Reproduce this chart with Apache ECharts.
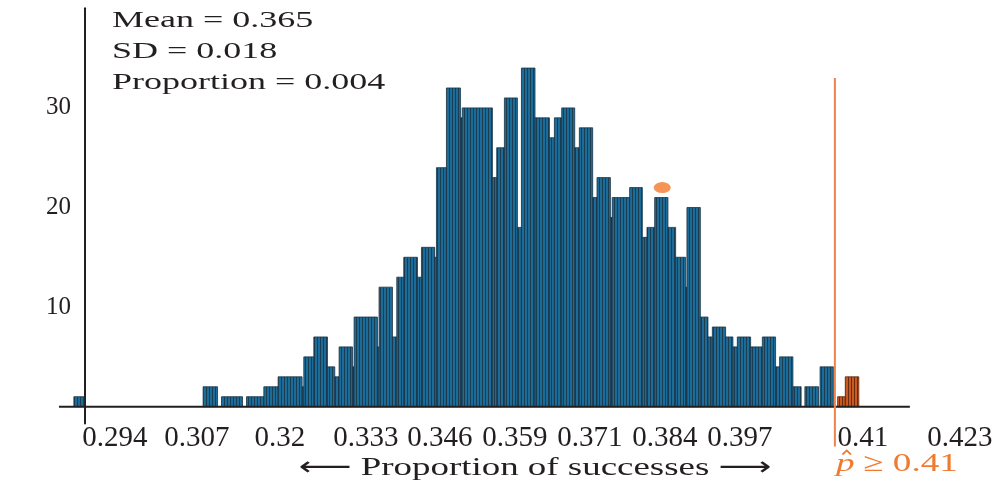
<!DOCTYPE html>
<html><head><meta charset="utf-8">
<script src="https://cdn.jsdelivr.net/npm/echarts@6/dist/echarts.min.js"></script>
<style>html,body{margin:0;padding:0;background:#fff}#c{width:992px;height:482px}</style>
</head><body><div id="c"></div>
<script>
// ---- data (proportion of successes, counts) ----
const binLo = [0.29230,0.31229,0.31513,0.31900,0.32168,0.32389,0.32760,0.32786,0.32941,0.33152,0.33265,0.33332,0.33539,0.33564,0.33925,0.33950,0.34157,0.34224,0.34332,0.34544,0.34606,0.34811,0.34838,0.34992,0.35209,0.35236,0.35703,0.35770,0.35889,0.36090,0.36152,0.36362,0.36585,0.36662,0.36775,0.36976,0.37048,0.37254,0.37321,0.37528,0.37556,0.37826,0.38022,0.38094,0.38213,0.38418,0.38537,0.38692,0.38712,0.38919,0.39037,0.39105,0.39310,0.39423,0.39491,0.39697,0.39878,0.40083,0.40145,0.40351,0.40536,0.40771];
const binHi = [0.29385,0.31452,0.31838,0.32168,0.32389,0.32760,0.32786,0.32941,0.33152,0.33265,0.33332,0.33539,0.33564,0.33925,0.33950,0.34157,0.34224,0.34332,0.34544,0.34606,0.34811,0.34838,0.34992,0.35209,0.35236,0.35703,0.35770,0.35889,0.36090,0.36152,0.36362,0.36585,0.36662,0.36775,0.36976,0.37048,0.37254,0.37321,0.37528,0.37556,0.37826,0.38022,0.38094,0.38213,0.38418,0.38537,0.38692,0.38712,0.38919,0.39037,0.39105,0.39310,0.39423,0.39491,0.39697,0.39878,0.40083,0.40145,0.40351,0.40478,0.40748,0.40976];
const counts = [1,2,1,1,2,3,2,5,7,4,3,6,4,9,6,12,7,13,15,13,16,15,24,32,29,30,23,26,31,18,34,29,27,29,30,26,28,21,23,19,21,22,17,18,21,18,15,12,20,9,7,8,7,6,7,6,7,4,5,2,2,4];
const tailLo = [0.41042,0.41161];
const tailHi = [0.41161,0.41370];
const tailCounts = [1,3];
const cutoff = 0.41;
const cutoffText = '\u2265 0.41';
const markerPoint = [0.3833, 22];
const xTickLabels = ['0.294','0.307','0.32','0.333','0.346','0.359','0.371','0.384','0.397','0.41','0.423'];
const yTickValues = [10,20,30];
const statNames = ['Mean','SD','Proportion'];
const statValues = ['0.365','0.018','0.004'];
const xTitle = 'Proportion of successes';

// ---- layout / styling ----
const X_MIN = 0.29, X_MAX = 0.4343, Y_MIN = -1.7, Y_MAX = 40;
const AXIS_END = 0.4216;
// where each tick label sits along the axis in the reference figure
const labelAt = [0.29866,0.31134,0.32418,0.33748,0.34892,0.36052,0.37212,0.38372,0.39532,0.41434,0.42934];
const SERIF = '"Liberation Serif","Times New Roman",serif';
const ORANGE = '#f07a30';

function stripes(light, dark){
  const c = document.createElement('canvas'); c.width = 3; c.height = 4;
  const g = c.getContext('2d'); g.fillStyle = light; g.fillRect(0,0,3,4);
  g.fillStyle = dark; g.fillRect(2,0,1,4);
  return {image: c, repeat: 'repeat'};
}
const bluePat = stripes('#1b6c98', '#1c3c50');
const orangePat = stripes('#c9591e', '#6a2c10');

function binRenderer(fill, stroke){
  return function(params, api){
    const p0 = api.coord([api.value(0), api.value(2)]);
    const p1 = api.coord([api.value(1), 0]);
    return {type:'rect', shape:{x:p0[0], y:p0[1], width:p1[0]-p0[0], height:p1[1]-p0[1]},
      style:{fill: fill, stroke: stroke, lineWidth: 0.8}};
  };
}

const mainData = counts.map((c,i)=>[binLo[i], binHi[i], c]);
const tailData = tailCounts.map((c,i)=>[tailLo[i], tailHi[i], c]);

const chart = echarts.init(document.getElementById('c'), null, {renderer:'canvas'});
chart.setOption({
  animation:false,
  backgroundColor:'#fff',
  grid:{left:59, right:0, top:8.3, bottom:58.4, outerBoundsMode:'none', containLabel:false},
  xAxis:{type:'value', min:X_MIN, max:X_MAX,
    axisLine:{show:false, onZero:false}, axisTick:{show:false}, splitLine:{show:false},
    axisLabel:{customValues: labelAt, margin: 0, hideOverlap:false,
      formatter:(v)=>{ let best=0,d=1; labelAt.forEach((a,i)=>{ if(Math.abs(a-v)<d){d=Math.abs(a-v);best=i;} }); return xTickLabels[best]; },
      fontFamily: SERIF, fontSize: 29, color:'#231f20'}},
  yAxis:{type:'value', min:Y_MIN, max:Y_MAX, offset:-26,
    axisLine:{show:true, lineStyle:{color:'#231f20', width:2}}, axisTick:{show:false}, splitLine:{show:false},
    axisLabel:{customValues: yTickValues, margin: 14, fontFamily: SERIF, fontSize: 25, color:'#231f20'}},
  series:[
    {type:'custom', name:'sim', renderItem: binRenderer(bluePat, '#1b3446'), data: mainData, encode:{x:[0,1], y:2}, clip:false, z:2},
    {type:'custom', name:'tail', renderItem: binRenderer(orangePat, '#5a2810'), data: tailData, encode:{x:[0,1], y:2}, clip:false, z:2},
    {type:'line', name:'baseline', data:[[X_MIN,0],[AXIS_END,0]], symbol:'none', clip:false,
      lineStyle:{color:'#231f20', width:2}, z:3},
    {type:'line', name:'cutoff', data:[[cutoff,33],[cutoff,-4]], symbol:'none', clip:false,
      lineStyle:{color:'#f0824a', width:2}, z:4},
    {type:'scatter', name:'marker', data:[markerPoint], symbol:'circle', symbolSize:[17,11],
      itemStyle:{color:'#f4792c'}, z:5}
  ],
  graphic:[
    {type:'text', x:112, y:5, scaleX:1.5, z:10,
      style:{text: statNames.map((n,i)=>n+' = '+statValues[i]).join('\n'), font:'24px '+SERIF, lineHeight:31, fill:'#231f20', textVerticalAlign:'top'}},
    {type:'text', x:535, y:468, scaleX:1.42, z:10,
      style:{text:'\u27F5 '+xTitle+' \u27F6', font:'26px '+SERIF+',"DejaVu Sans"', fill:'#231f20', textAlign:'center', textVerticalAlign:'middle'}},
    {type:'group', x:836, y:464, scaleX:1.43, z:10, children:[
      {type:'text', x:0, y:0, style:{text:'p', font:'italic 26px '+SERIF, fill:ORANGE, textVerticalAlign:'middle'}},
      {type:'polyline', shape:{points:[[4.5,-9.5],[7.5,-13.5],[10.5,-9.5]]}, style:{stroke:ORANGE, lineWidth:1.4, fill:null}},
      {type:'text', x:19, y:0, style:{text:cutoffText, font:'26px '+SERIF+',"DejaVu Sans"', fill:ORANGE, textVerticalAlign:'middle'}}
    ]}
  ]
});
</script></body></html>
